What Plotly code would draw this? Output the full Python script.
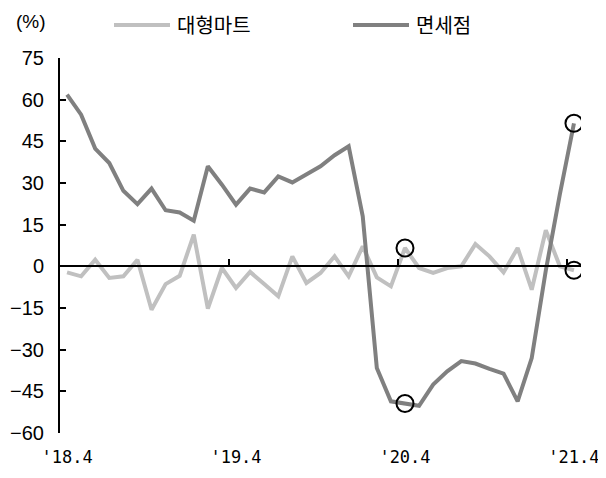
import plotly.graph_objects as go

# ---- data ----
months = ["'18.4"] + [""] * 11 + ["'19.4"] + [""] * 11 + ["'20.4"] + [""] * 11 + ["'21.4"]
mart = [-2.2, -3.6, 2.4, -4.2, -3.6, 2.4, -15.6, -6.4, -3.4, 11.4,
        -15.2, -0.6, -7.8, -2.0, -6.4, -10.8, 3.6, -6.0, -2.4, 3.6,
        -3.6, 7.2, -4.0, -7.2, 6.6, -0.6, -2.4, -0.6, 0.0, 8.0,
        3.6, -2.2, 6.6, -8.4, 13.0, 0.0, -1.4]
dutyfree = [61.8, 54.6, 42.4, 37.2, 27.2, 22.4, 28.0, 20.2, 19.4, 16.4,
            36.0, 29.4, 22.2, 28.0, 26.6, 32.4, 30.2, 33.2, 36.0, 40.0,
            43.2, 18.0, -36.6, -48.6, -49.4, -50.2, -42.6, -37.8, -34.1, -35.0,
            -36.9, -38.6, -48.6, -33.0, -1.5, 26.0, 51.5]
highlight = [24, 36]
y_ticks = [75, 60, 45, 30, 15, 0, -15, -30, -45, -60]
series_names = ["대형마트", "면세점"]

LIGHT = "#c0c0c0"
DARK = "#808080"

OFF = 8  # page body margin
W, H = 598, 470
ML, MR, MT, MB = 52, 25, 50, 45
PW, PH = W - ML - MR, H - MT - MB


def px_x(p):
    return (p - OFF - ML) / PW


def px_y(p):
    return (H - MB - (p - OFF)) / PH


x = list(range(len(mart)))

fig = go.Figure()
fig.add_trace(go.Scatter(x=x, y=mart, mode="lines", line=dict(color=LIGHT, width=4),
                         name=series_names[0], showlegend=False))
fig.add_trace(go.Scatter(x=x, y=dutyfree, mode="lines", line=dict(color=DARK, width=4),
                         name=series_names[1], showlegend=False))
hx = [i for i in highlight] * 2
hy = [mart[i] for i in highlight] + [dutyfree[i] for i in highlight]
fig.add_trace(go.Scatter(x=hx, y=hy, mode="markers", xaxis="x2",
                         marker=dict(symbol="circle-open", size=17,
                                     line=dict(color="black", width=2), color="black"),
                         showlegend=False))

xr = [-0.5, len(mart) - 0.5]
fig.update_layout(
    width=W, height=H,
    margin=dict(l=ML, r=MR, t=MT, b=MB, autoexpand=False),
    paper_bgcolor="white", plot_bgcolor="white",
    showlegend=False,
    xaxis=dict(range=xr, tickmode="array", tickvals=x, ticktext=months,
               showline=False, showgrid=False, zeroline=False, ticks="",
               tickangle=0, ticklabelstandoff=12, automargin=False,
               tickfont=dict(family="DejaVu Sans Mono", size=17, color="black")),
    xaxis2=dict(range=xr, overlaying="x", anchor="free",
                position=(0 - y_ticks[-1]) / (y_ticks[0] - y_ticks[-1]),
                showline=True, linecolor="black", linewidth=2,
                tickmode="array", tickvals=[11.5, 23.5, 35.5],
                ticks="inside", ticklen=6, tickwidth=2, tickcolor="black",
                showticklabels=False, showgrid=False, zeroline=False),
    yaxis=dict(range=[y_ticks[-1], y_ticks[0]], tickmode="array", tickvals=y_ticks,
               showline=True, linecolor="black", linewidth=2,
               ticks="inside", ticklen=6, tickwidth=2, tickcolor="black",
               showgrid=False, zeroline=False, ticklabelstandoff=10, automargin=False,
               tickfont=dict(family="Liberation Sans", size=20, color="black")),
)

# unit label
fig.add_annotation(x=px_x(14), y=px_y(22), xref="paper", yref="paper",
                   text="(%)", showarrow=False, xanchor="left", yanchor="middle",
                   font=dict(family="Liberation Sans", size=19, color="black"))

# custom legend
leg_y = px_y(25)
for (x0, x1, tx, name, col) in [(114, 170, 175, series_names[0], LIGHT),
                                (353, 409, 414, series_names[1], DARK)]:
    fig.add_shape(type="line", xref="paper", yref="paper",
                  x0=px_x(x0), x1=px_x(x1), y0=leg_y, y1=leg_y,
                  line=dict(color=col, width=4))
    fig.add_annotation(x=px_x(tx), y=leg_y, xref="paper", yref="paper",
                       text=name, showarrow=False, xanchor="left", yanchor="middle",
                       font=dict(family="Noto Sans CJK KR", size=20, color="black"))

fig.write_html("out.html")
